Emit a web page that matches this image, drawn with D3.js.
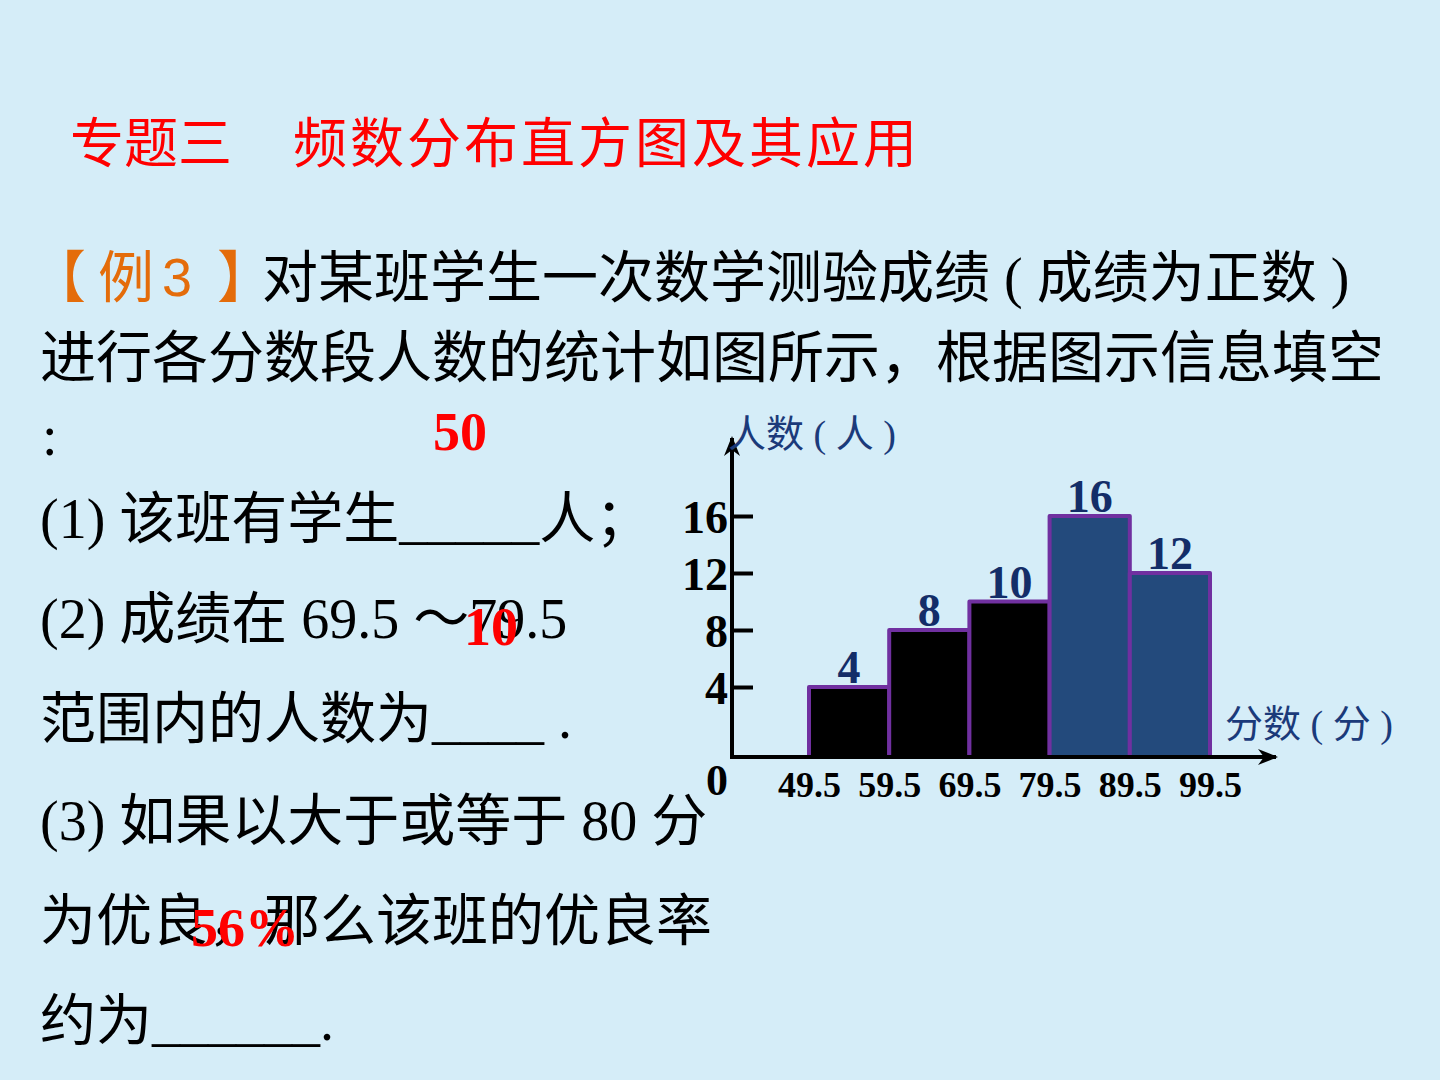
<!DOCTYPE html>
<html>
<head>
<meta charset="utf-8">
<script src="https://cdn.jsdelivr.net/npm/d3@7"></script>
<style>
  html, body { margin: 0; padding: 0; background: #d5edf8; }
  svg { display: block; }
</style>
</head>
<body>
<div id="chart"></div>
<script>
// histogram data
const bins = [49.5, 59.5, 69.5, 79.5, 89.5, 99.5];
const counts = [4, 8, 10, 16, 12];
const barColors = ["#000000", "#000000", "#000000", "#234a7c", "#234a7c"];
const yTicks = [4, 8, 12, 16];
const yTitle = "人数 ( 人 )";
const xTitle = "分数 ( 分 )";

// slide text
const titleA = "专题三";
const titleB = "频数分布直方图及其应用";
const answers = ["50", "10", "56%"];

const W = 1440, H = 1080;
const svg = d3.select("#chart").append("svg")
  .attr("width", W)
  .attr("height", H);

// background
svg.append("rect").attr("width", W).attr("height", H).attr("fill", "#d5edf8");

const serif = "'Liberation Serif', 'Times New Roman', 'Noto Sans CJK SC', serif";
const mixed = "'Liberation Serif', 'Noto Sans CJK SC', sans-serif";
const cjk = "'Noto Sans CJK SC', sans-serif";

// title
svg.append("text")
  .attr("x", 70).attr("y", 163)
  .attr("font-family", cjk)
  .attr("font-size", 54)
  .attr("fill", "#ff0000")
  .text(titleA);
svg.append("text")
  .attr("x", 293).attr("y", 163)
  .attr("font-family", cjk)
  .attr("font-size", 54)
  .attr("letter-spacing", 3)
  .attr("fill", "#ff0000")
  .text(titleB);

// body text lines
function line(x, y, str, color) {
  return svg.append("text")
    .attr("x", x).attr("y", y)
    .attr("font-family", mixed)
    .attr("font-size", 56)
    .attr("fill", color || "#000")
    .text(str);
}

// 【例 3 】 label, pieces placed one by one
const orange = "#e46c0a";
line(30, 297, "【", orange);
line(98, 297, "例", orange);
svg.append("text")
  .attr("x", 162).attr("y", 296)
  .attr("font-family", "'Liberation Sans', sans-serif")
  .attr("font-size", 54)
  .attr("fill", orange)
  .text("3");
line(217, 297, "】", orange);

line(262, 297, "对某班学生一次数学测验成绩 ( 成绩为正数 )");
line(40, 377, "进行各分数段人数的统计如图所示，根据图示信息填空");
line(42, 455, ":");
line(40, 538, "(1) 该班有学生_____人；");
line(40, 638, "(2) 成绩在 69.5 ～79.5");
line(40, 738, "范围内的人数为____ .");
line(40, 840, "(3) 如果以大于或等于 80 分");
line(40, 940, "为优良，那么该班的优良率");
line(40, 1040, "约为______.");

// red answers
const ansPos = [[460, 450], [491, 645], [245, 946]];
svg.selectAll(".answer")
  .data(answers)
  .enter()
  .append("text")
  .attr("class", "answer")
  .attr("x", (d, i) => ansPos[i][0])
  .attr("y", (d, i) => ansPos[i][1])
  .attr("text-anchor", "middle")
  .attr("font-family", serif)
  .attr("font-weight", "bold")
  .attr("font-size", 54)
  .attr("fill", "#ff0000")
  .text(d => d);

// ---- histogram ----
const originX = 732, baseY = 757;

const x = d3.scaleLinear()
  .domain([bins[0], bins[bins.length - 1]])
  .range([809, 1210]);

const y = d3.scaleLinear()
  .domain([0, 16])
  .range([744, 516]);

const chart = svg.append("g");

// bars
const barData = counts.map((c, i) => ({x0: bins[i], x1: bins[i + 1], v: c, color: barColors[i]}));

chart.selectAll(".bar")
  .data(barData)
  .enter()
  .append("rect")
  .attr("class", "bar")
  .attr("x", d => x(d.x0))
  .attr("y", d => y(d.v))
  .attr("width", d => x(d.x1) - x(d.x0))
  .attr("height", d => baseY - y(d.v))
  .attr("fill", d => d.color)
  .attr("stroke", "#7030a0")
  .attr("stroke-width", 4)
  .attr("stroke-linejoin", "round");

// value labels
chart.selectAll(".val")
  .data(barData)
  .enter()
  .append("text")
  .attr("class", "val")
  .attr("x", d => (x(d.x0) + x(d.x1)) / 2)
  .attr("y", d => y(d.v) - 4)
  .attr("text-anchor", "middle")
  .attr("font-family", serif)
  .attr("font-weight", "bold")
  .attr("font-size", 46)
  .attr("fill", "#132d68")
  .text(d => d.v);

// arrow marker
svg.append("defs").append("marker")
  .attr("id", "arrow")
  .attr("viewBox", "0 0 10 10")
  .attr("refX", 9).attr("refY", 5)
  .attr("markerWidth", 5).attr("markerHeight", 5)
  .attr("markerUnits", "strokeWidth")
  .attr("orient", "auto")
  .append("path")
  .attr("d", "M0,1 L10,5 L0,9 L3,5 Z")
  .attr("fill", "#000");

// axes lines
chart.append("line")
  .attr("x1", originX - 2).attr("y1", baseY)
  .attr("x2", 1276).attr("y2", baseY)
  .attr("stroke", "#000").attr("stroke-width", 4)
  .attr("marker-end", "url(#arrow)");

chart.append("line")
  .attr("x1", originX).attr("y1", baseY + 2)
  .attr("x2", originX).attr("y2", 438)
  .attr("stroke", "#000").attr("stroke-width", 4)
  .attr("marker-end", "url(#arrow)");

// y axis ticks (pointing inward)
const yAxis = chart.append("g")
  .attr("transform", `translate(${originX},0)`)
  .call(d3.axisLeft(y).tickValues(yTicks).tickSize(-21).tickPadding(4).tickFormat(d3.format("d")));
yAxis.select(".domain").remove();
yAxis.selectAll(".tick line").attr("stroke", "#000").attr("stroke-width", 4);
yAxis.selectAll(".tick text")
  .attr("font-family", serif)
  .attr("font-weight", "bold")
  .attr("font-size", 46)
  .attr("fill", "#000")
  .attr("dy", "0.36em");

// zero label
chart.append("text")
  .attr("x", 717).attr("y", 795)
  .attr("text-anchor", "middle")
  .attr("font-family", serif)
  .attr("font-weight", "bold")
  .attr("font-size", 44)
  .text("0");

// x axis labels
const xAxis = chart.append("g")
  .attr("transform", `translate(0,${baseY})`)
  .call(d3.axisBottom(x).tickValues(bins).tickSize(0).tickPadding(14).tickFormat(d3.format(".1f")));
xAxis.select(".domain").remove();
xAxis.selectAll(".tick text")
  .attr("font-family", serif)
  .attr("font-weight", "bold")
  .attr("font-size", 36)
  .attr("fill", "#000")
  .attr("dy", "0.71em");

// axis titles
chart.append("text")
  .attr("x", 728).attr("y", 447)
  .attr("font-family", mixed)
  .attr("font-size", 38)
  .attr("fill", "#1b3a7a")
  .text(yTitle);

chart.append("text")
  .attr("x", 1225).attr("y", 737)
  .attr("font-family", mixed)
  .attr("font-size", 38)
  .attr("fill", "#1b3a7a")
  .text(xTitle);
</script>
</body>
</html>
